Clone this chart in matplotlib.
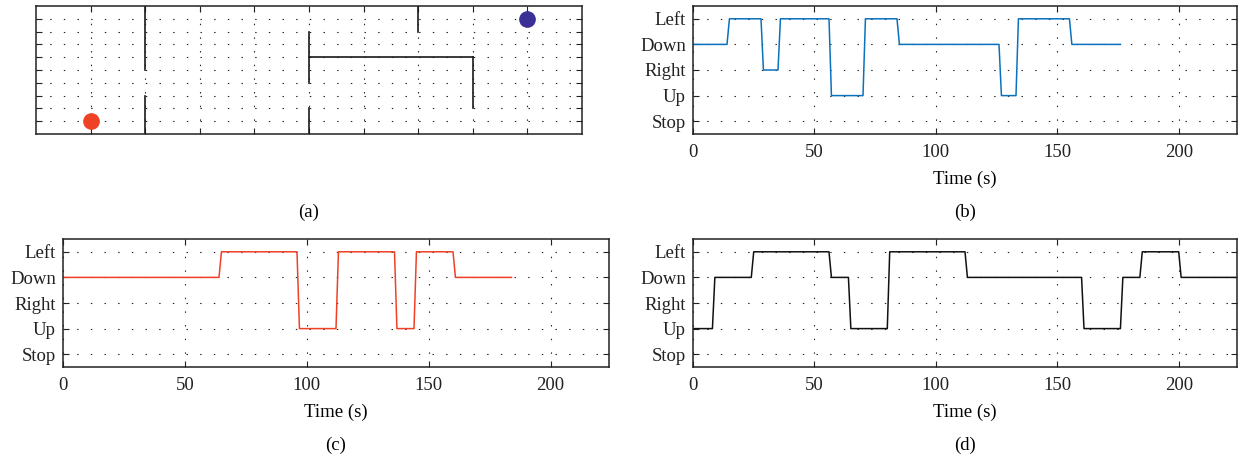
import numpy as np
import matplotlib
matplotlib.use('Agg')
from matplotlib import pyplot as plt

plt.rcParams['font.family'] = ['Liberation Serif', 'DejaVu Serif']
plt.rcParams['font.size'] = 13.5

# maze walls (x0, y0, x1, y1) on a 10 x 10 grid
walls = [(2, 5, 2, 10), (2, 0, 2, 3),
         (5, 4, 5, 8), (5, 0, 5, 2),
         (5, 6, 8, 6), (8, 2, 8, 6),
         (7, 8, 7, 10)]
start = (1, 1)
goal = (9, 9)

actions = ['Stop', 'Up', 'Right', 'Down', 'Left']

# action sequences: breakpoints (time in s, action index)
b_time = [0, 14, 15, 28, 29, 35, 36, 56, 57, 70, 71, 84, 85, 126, 127, 133, 134, 155, 156, 176]
b_act = [3, 3, 4, 4, 2, 2, 4, 4, 1, 1, 4, 4, 3, 3, 1, 1, 4, 4, 3, 3]

c_time = [0, 64, 65, 96, 97, 112, 113, 136, 137, 144, 145, 160, 161, 184]
c_act = [3, 3, 4, 4, 1, 1, 4, 4, 1, 1, 4, 4, 3, 3]

d_time = [0, 8, 9, 24, 25, 56, 57, 64, 65, 80, 81, 112, 113, 160, 161, 176, 177, 184, 185, 200, 201, 224]
d_act = [1, 1, 3, 3, 4, 4, 3, 3, 1, 1, 4, 4, 3, 3, 1, 1, 3, 3, 4, 4, 3, 3]

W, H = 1240, 462
fig = plt.figure(figsize=(W / 100, H / 100), dpi=100)

def box(l, t, r, b):
    return [l / W, 1 - b / H, (r - l) / W, (b - t) / H]

dots = (0, (1.3, 11))

def style(ax):
    ax.tick_params(direction='in', top=True, right=True, length=4, width=0.8, colors='#222222')
    for s in ax.spines.values():
        s.set_linewidth(1.1)
        s.set_color('#222222')
    ax.grid(True, color='black', linestyle=dots, linewidth=0.8, alpha=0.85)

ax1 = fig.add_axes(box(36, 6, 582, 134))
style(ax1)
ax1.set_xlim(0, 10)
ax1.set_ylim(0, 10)
ax1.set_xticks(range(1, 10))
ax1.set_yticks(range(1, 10))
ax1.set_xticklabels([])
ax1.set_yticklabels([])
for x0, y0, x1, y1 in walls:
    ax1.plot([x0, x1], [y0, y1], color='#1a1a1a', lw=1.2)
ax1.plot(*start, 'o', color='#ef4125', ms=11, zorder=5)
ax1.plot(*goal, 'o', color='#3a3095', ms=11, zorder=5)
fig.text(309 / W, 1 - 212 / H, '(a)', ha='center', va='center')

panels = [
    (box(693, 6, 1237, 134), b_time, b_act, '#0a72bd', 965, 212, '(b)'),
    (box(63, 239, 609, 367), c_time, c_act, '#ef4125', 336, 445, '(c)'),
    (box(693, 239, 1237, 367), d_time, d_act, '#111111', 965, 445, '(d)'),
]
for rect, t, a, col, lx, ly, lab in panels:
    ax = fig.add_axes(rect)
    style(ax)
    ax.plot(t, a, color=col, lw=1.1)
    ax.set_xlim(0, 224)
    ax.set_ylim(-0.5, 4.5)
    ax.set_xticks([0, 50, 100, 150, 200])
    ax.set_yticks(range(5))
    ax.set_yticklabels(actions)
    ax.tick_params(axis='x', pad=7)
    ax.tick_params(axis='y', pad=5)
    ax.set_xlabel('Time (s)', labelpad=7)
    fig.text(lx / W, 1 - ly / H, lab, ha='center', va='center')

fig.savefig('out.png', dpi=100)
